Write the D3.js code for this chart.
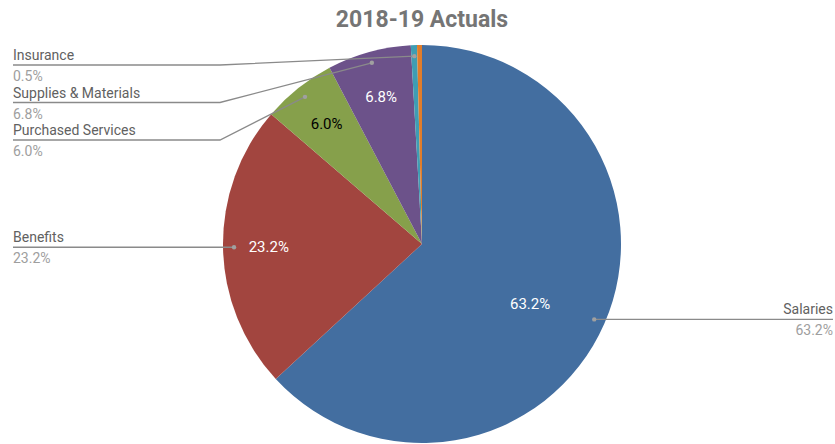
<!DOCTYPE html>
<html>
<head>
<meta charset="utf-8">
<script src="https://cdn.jsdelivr.net/npm/d3@7"></script>
<style>
  html, body { margin: 0; padding: 0; background: #fff; }
  svg { display: block; font-family: Roboto, "Noto Sans", sans-serif; }
</style>
</head>
<body>
<svg id="chart" width="835" height="444"></svg>
<script>
// Spending categories, share of total (%)
const categories = ["Salaries", "Benefits", "Purchased Services", "Supplies & Materials", "Insurance", "Other"];
const shares = [63.2, 23.2, 6.0, 6.8, 0.5, 0.4];
const showLabel = [true, true, true, true, true, false];
const colors = ["#436ea0", "#a2453f", "#86a04b", "#6c528a", "#3f9db3", "#e17d2a"];
const insideTextColors = ["#ffffff", "#ffffff", "#000000", "#ffffff", "#ffffff", "#ffffff"];
const title = "2018-19 Actuals";

const W = 835, H = 444;
const cx = 422, cy = 244, R = 199;

const svg = d3.select("#chart");

svg.append("text")
  .attr("x", cx).attr("y", 27)
  .attr("text-anchor", "middle")
  .attr("font-size", 23).attr("font-weight", "bold")
  .attr("fill", "#757575")
  .text(title);

const data = categories.map((c, i) => ({ name: c, value: shares[i], i }));
const pie = d3.pie().sort(null).value(d => d.value);
const arcs = pie(data);
const arc = d3.arc().innerRadius(0).outerRadius(R);

const g = svg.append("g").attr("transform", `translate(${cx},${cy})`);
g.selectAll("path.slice").data(arcs).enter().append("path")
  .attr("class", "slice")
  .attr("d", arc)
  .attr("fill", d => colors[d.data.i]);

const mid = d => (d.startAngle + d.endAngle) / 2;
const polar = (a, r) => [cx + r * Math.sin(a), cy - r * Math.cos(a)];

// percentage labels inside the larger slices; the dominant slice's label
// sits a little further round so it clears the leader line
arcs.filter(d => d.data.value >= 5).forEach(d => {
  const big = d.data.value > 50;
  const lr = big ? 0.62 * R : 0.77 * R;
  const a = mid(d) + (big ? 0.09 : 0);
  const [x, y] = polar(a, lr);
  svg.append("text")
    .attr("x", x).attr("y", y)
    .attr("text-anchor", "middle").attr("dy", "0.35em")
    .attr("font-size", 15)
    .attr("fill", insideTextColors[d.data.i])
    .text(d.data.value.toFixed(1) + "%");
});

// outside labels with leader lines
const dotR = 188;
const labelled = arcs.filter(d => showLabel[d.data.i]).map(d => {
  const a = mid(d);
  const [px, py] = polar(a, dotR);
  return { d, px, py, right: Math.sin(a) >= 0 };
});

function layoutSide(items, minY, gap) {
  items.sort((a, b) => a.py - b.py);
  let prev = -Infinity;
  items.forEach(it => {
    it.ly = Math.max(it.py, minY, prev + gap);
    prev = it.ly;
  });
}
const leftItems = labelled.filter(l => !l.right);
const rightItems = labelled.filter(l => l.right);
layoutSide(leftItems, 65, 37.5);
layoutSide(rightItems, 65, 37.5);

const lineColor = "#8a8a8a";
const elbowLeft = cx - R - 3;
const elbowRight = cx + R + 3;

labelled.forEach(l => {
  const x0 = l.right ? W - 2 : 13;
  const ex = l.right ? elbowRight : elbowLeft;
  let pts;
  if (Math.abs(l.ly - l.py) < 0.5) {
    pts = [[x0, l.ly], [l.px, l.py]];
  } else {
    pts = [[x0, l.ly], [ex, l.ly], [l.px, l.py]];
  }
  svg.append("path")
    .attr("d", d3.line()(pts))
    .attr("fill", "none")
    .attr("stroke", lineColor)
    .attr("stroke-width", 1.3);
  svg.append("circle")
    .attr("cx", l.px).attr("cy", l.py).attr("r", 2.2)
    .attr("fill", "#a0a0a0");
  const anchor = l.right ? "end" : "start";
  svg.append("text")
    .attr("x", x0).attr("y", l.ly - 5)
    .attr("text-anchor", anchor)
    .attr("font-size", 14).attr("fill", "#616161")
    .text(l.d.data.name);
  svg.append("text")
    .attr("x", x0).attr("y", l.ly + 16)
    .attr("text-anchor", anchor)
    .attr("font-size", 14).attr("fill", "#9e9e9e")
    .text(l.d.data.value.toFixed(1) + "%");
});
</script>
</body>
</html>
